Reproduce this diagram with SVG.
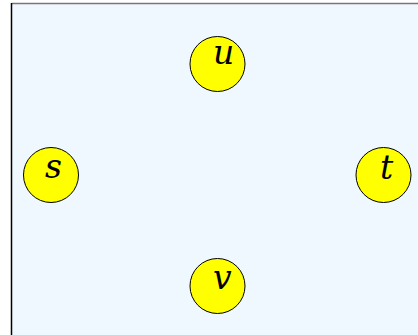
<svg xmlns="http://www.w3.org/2000/svg" width="418" height="335" viewBox="0 0 418 335">
<style>
.node circle{fill:#ffff00;stroke:#000;stroke-width:1}
.node text{font-family:"DejaVu Serif","Liberation Serif",serif;font-style:italic;font-size:33px;fill:#000}
</style>
<rect x="11.5" y="3.5" width="420" height="340" fill="#eff7ff" stroke="none"/>
<line x1="11.5" y1="3.5" x2="418" y2="3.5" stroke="#777" stroke-width="1.5"/>
<line x1="11.5" y1="3" x2="11.5" y2="335" stroke="#000" stroke-width="1.5"/>
<g id="connectors"></g>
<g id="node-u" class="node"><circle cx="217.5" cy="64" r="27.5"/><text x="213" y="64">u</text></g>
<g id="node-s" class="node"><circle cx="51" cy="175" r="27.5"/><text x="45" y="177.5">s</text></g>
<g id="node-t" class="node"><circle cx="383.5" cy="175" r="27.5"/><text x="380" y="178.5">t</text></g>
<g id="node-v" class="node"><circle cx="217.5" cy="286" r="27.5"/><text x="213" y="288.5">v</text></g>
</svg>
